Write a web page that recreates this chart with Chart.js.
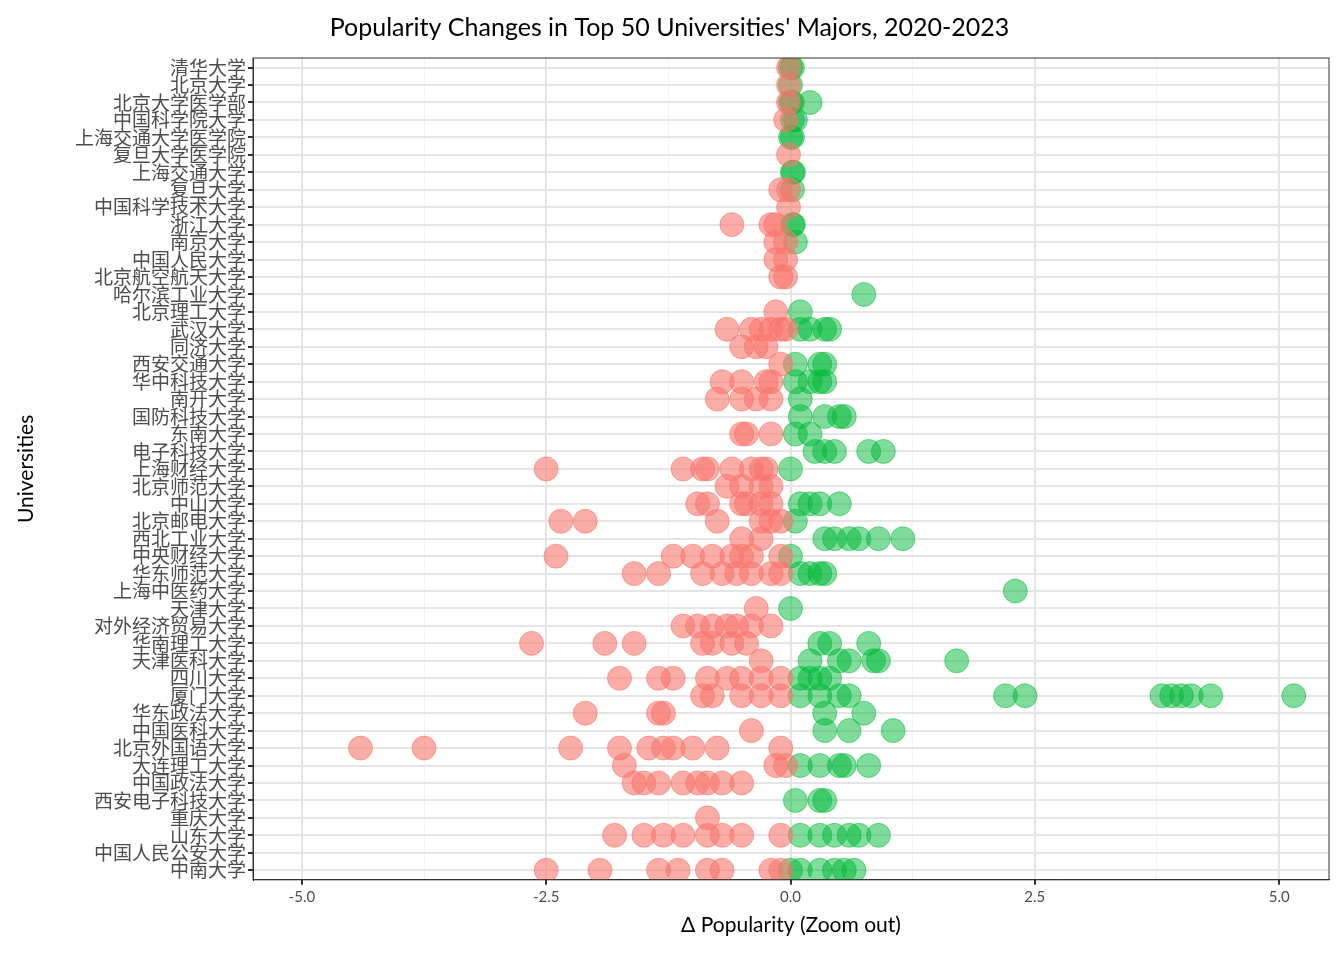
<!DOCTYPE html>
<html><head><meta charset="utf-8">
<script src="https://cdn.jsdelivr.net/npm/chart.js@4"></script>
<style>html,body{margin:0;background:#fff}#w{width:1344px;height:960px}</style>
</head><body><div id="w"><canvas id="c"></canvas></div>
<script>
const universities = ["清华大学","北京大学","北京大学医学部","中国科学院大学","上海交通大学医学院","复旦大学医学院","上海交通大学","复旦大学","中国科学技术大学","浙江大学","南京大学","中国人民大学","北京航空航天大学","哈尔滨工业大学","北京理工大学","武汉大学","同济大学","西安交通大学","华中科技大学","南开大学","国防科技大学","东南大学","电子科技大学","上海财经大学","北京师范大学","中山大学","北京邮电大学","西北工业大学","中央财经大学","华东师范大学","上海中医药大学","天津大学","对外经济贸易大学","华南理工大学","天津医科大学","四川大学","厦门大学","华东政法大学","中国医科大学","北京外国语大学","大连理工大学","中国政法大学","西安电子科技大学","重庆大学","山东大学","中国人民公安大学","中南大学"];
const changes = [
[0,-0.02,0.02],[-0.02,0.0],[-0.02,0.0,0.2,0.02],[-0.05,0.02,0.05],[0.0,0.02],[-0.02],[0.02,0.03],[-0.1,-0.02,0.02],[-0.02],
[-0.6,-0.2,-0.15,0.02,0.03],[-0.15,-0.05,0.05],[-0.15,-0.05],[-0.1,-0.05],[0.75],[-0.15,0.1],
[-0.65,-0.4,-0.3,-0.2,-0.1,-0.05,0.1,0.2,0.35,0.4],[-0.5,-0.35,-0.25],[-0.1,0.05,0.3,0.35],
[-0.7,-0.5,-0.25,-0.2,0.05,0.2,0.3,0.35],[-0.75,-0.5,-0.35,-0.2,0.1],[0.1,0.35,0.5,0.55],
[-0.5,-0.45,-0.2,0.05,0.2],[0.25,0.35,0.45,0.8,0.95],[-2.5,-1.1,-0.9,-0.85,-0.6,-0.4,-0.3,-0.25,0.0],
[-0.65,-0.5,-0.3,-0.2],[-0.95,-0.85,-0.5,-0.45,-0.3,-0.2,0.1,0.2,0.3,0.5],
[-2.35,-2.1,-0.75,-0.3,-0.2,-0.1,0.05],[-0.5,-0.3,0.35,0.45,0.6,0.7,0.9,1.15],
[-2.4,-1.2,-1.0,-0.8,-0.6,-0.5,-0.4,-0.1,0.0],[-1.6,-1.35,-0.9,-0.7,-0.55,-0.4,-0.2,-0.1,0.1,0.2,0.3,0.35],
[2.3],[-0.35,0.0],[-1.1,-0.95,-0.8,-0.65,-0.55,-0.4,-0.2],
[-2.65,-1.9,-1.6,-0.9,-0.8,-0.6,-0.45,0.3,0.4,0.8],[-0.3,0.2,0.5,0.6,0.85,0.9,1.7],
[-1.75,-1.35,-1.2,-0.85,-0.65,-0.5,-0.3,-0.1,0.1,0.2,0.3,0.4],
[-0.9,-0.8,-0.5,-0.3,-0.1,0.1,0.3,0.5,0.6,2.2,2.4,3.8,3.9,4.0,4.1,4.3,5.15],
[-2.1,-1.35,-1.3,0.35,0.75],[-0.4,0.35,0.6,1.05],
[-4.4,-3.75,-2.25,-1.75,-1.45,-1.3,-1.2,-1.0,-0.75,-0.1],
[-1.7,-0.15,-0.05,0.1,0.3,0.5,0.55,0.8],[-1.6,-1.5,-1.35,-1.1,-0.95,-0.85,-0.7,-0.5],
[0.05,0.3,0.35],[-0.85],[-1.8,-1.5,-1.3,-1.1,-0.85,-0.7,-0.5,-0.1,0.1,0.3,0.45,0.6,0.7,0.9],[],
[-2.5,-1.95,-1.35,-1.15,-0.85,-0.7,-0.2,-0.1,0.0,0.1,0.3,0.45,0.55,0.65]];
const xTickLabels = [-5.0,-2.5,0.0,2.5,5.0];
const neg=[],pos=[];
changes.forEach((r,i)=>r.forEach(v=>(v<0?neg:pos).push({x:v,y:i})));
const F="'Noto Sans CJK SC','Noto Sans'";
const isMajor=c=>xTickLabels.includes(c.tick&&c.tick.value);
new Chart(document.getElementById('c'),{type:'scatter',
data:{datasets:[
{data:neg,backgroundColor:'rgba(248,118,109,0.6)',borderColor:'rgba(248,118,109,0.6)',pointRadius:12,pointHoverRadius:12},
{data:pos,backgroundColor:'rgba(0,186,56,0.5)',borderColor:'rgba(0,186,56,0.5)',pointRadius:12,pointHoverRadius:12}]},
options:{responsive:true,maintainAspectRatio:false,animation:false,
layout:{padding:{left:10,right:15,top:5,bottom:18}},
plugins:{legend:{display:false},tooltip:{enabled:false},
title:{display:true,text:"Popularity Changes in Top 50 Universities' Majors, 2020-2023",color:'#000',font:{family:'Lato',size:25,weight:'normal'},padding:{top:8,bottom:15}}},
scales:{
x:{min:-5.5,max:5.51,afterBuildTicks:a=>{a.ticks=[-5,-3.75,-2.5,-1.25,0,1.25,2.5,3.75,5].map(v=>({value:v}));},
ticks:{color:'#4d4d4d',font:{family:'Lato',size:15},callback:v=>xTickLabels.includes(v)?v.toFixed(1):''},
grid:{color:c=>isMajor(c)?'#e5e5e5':'#f2f2f2',lineWidth:c=>isMajor(c)?2:1,tickColor:c=>isMajor(c)?'#333':'rgba(0,0,0,0)',tickLength:5},
border:{color:'#333'},
title:{display:true,text:'Δ Popularity (Zoom out)',color:'#000',font:{family:'Lato',size:21}}},
y:{reverse:true,min:-0.55,max:46.55,afterBuildTicks:a=>{a.ticks=universities.map((u,i)=>({value:i}));},
afterFit:a=>{a.width=243;},
ticks:{autoSkip:false,color:'#4d4d4d',font:{family:F,size:19},callback:v=>universities[v]||'',padding:2},
grid:{color:'#e5e5e5',lineWidth:2,tickColor:'#333',tickLength:5},border:{color:'#333'},
title:{display:true,text:'Universities',color:'#000',font:{family:'Lato',size:21}}}}},
plugins:[{id:'box',afterDraw(ch){const a=ch.chartArea,x=ch.ctx;x.save();x.strokeStyle='#333';x.lineWidth=1;x.strokeRect(a.left,a.top,a.right-a.left,a.bottom-a.top);x.restore();}}]
});
</script></body></html>
